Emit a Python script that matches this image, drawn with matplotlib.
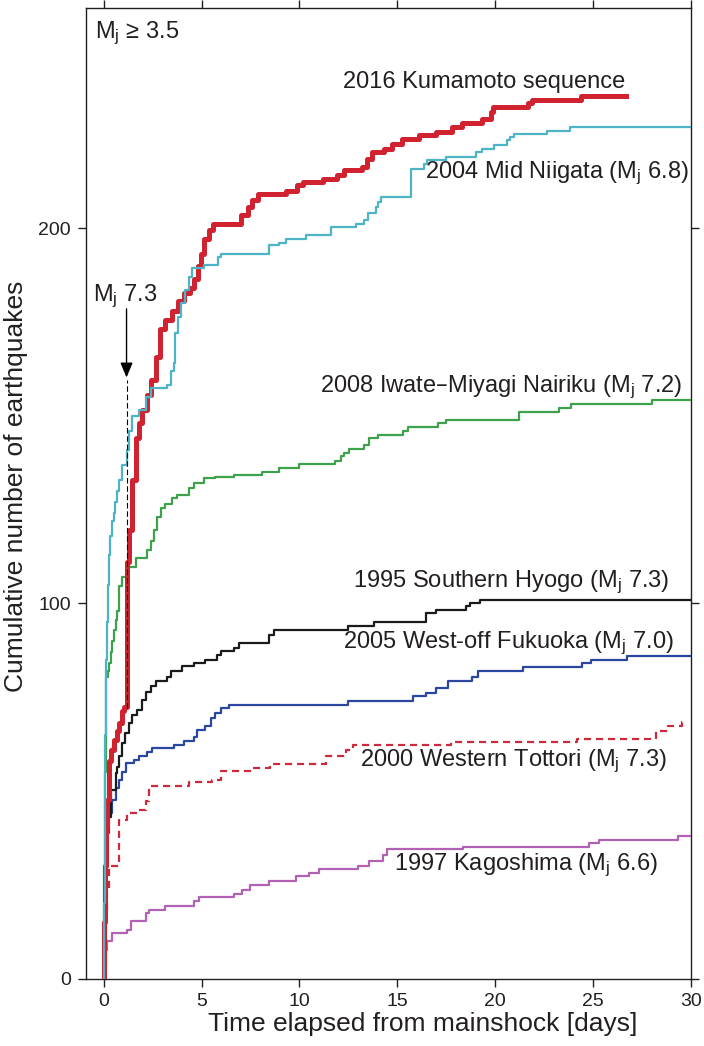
import matplotlib
matplotlib.use("Agg")
import matplotlib.pyplot as plt
from matplotlib.patches import ArrowStyle

plt.rcParams['font.family'] = ['Liberation Sans', 'DejaVu Sans']
plt.rcParams['mathtext.default'] = 'regular'

TXT = '#231f20'

# ---- data (days after mainshock, cumulative count) ----
kumamoto_t = [0, 0.02, 0.05, 0.1, 0.15, 0.27, 0.4, 0.54, 0.66, 0.78,
              0.95, 1.05, 1.18, 1.3, 1.46, 1.63, 1.8, 1.97, 2.2, 2.4,
              2.65, 2.9, 3.16, 3.5, 3.8, 4.08, 4.39, 4.6, 4.8, 4.95,
              5.15, 5.4, 5.6, 7.0, 7.35, 7.6, 7.88, 9.32, 9.9, 10.2,
              11.2, 11.9, 12.3, 13.2, 13.45, 13.7, 14.3, 14.75, 15.26, 16.1,
              17.0, 17.8, 18.3, 19.3, 19.8, 19.9, 21.7, 21.9, 24.4, 26.7]
kumamoto_n = [0, 15, 30, 40, 47.6, 58, 61, 63.6, 66, 68,
              71.2, 72.3, 111, 119.6, 132.9, 144, 148, 151.5, 155.5, 159.5,
              165.8, 173, 175.6, 178, 180.5, 182.7, 184, 186.5, 190, 193,
              197, 199.5, 201, 203.5, 205.7, 207.5, 209.2, 210, 211.4, 212.3,
              213.2, 214.1, 215.4, 216.3, 218.5, 220.3, 221.2, 222.5, 223.9, 224.8,
              225.6, 227, 228, 229, 231, 232.3, 233.3, 234.3, 235.2, 235.2]

niigata_t = [0, 0.02, 0.05, 0.08, 0.12, 0.19, 0.22, 0.27, 0.35, 0.45, 0.53, 0.6, 0.7, 0.8, 0.95,
             1.21, 1.29, 1.46, 1.8, 2.14, 2.4, 3.25, 3.42, 3.59, 3.67, 3.8, 3.93, 4.18, 4.35, 4.52,
             5.15, 5.83, 6.0, 8.47, 8.98, 9.32, 10.34, 11.6, 12.9, 13.3, 13.5, 13.9, 14.0, 14.17,
             15.7, 16.38, 16.5, 17.5, 19.0, 19.35, 19.95, 20.6, 20.75, 20.97, 22.67, 23.8, 30]
niigata_n = [0, 20, 45, 65, 85, 95, 105, 113, 118, 122, 124, 127, 130, 133, 137,
             141, 146, 150, 151.5, 155, 157.4, 158.2, 162, 164, 172, 176.4, 180, 183.5, 187, 189.3,
             190.1, 192.4, 193.2, 195.5, 196.1, 197.2, 198.1, 200.4, 201.2, 202.1, 204, 205.7, 207, 208.3,
             215.9, 217.2, 218.1, 219, 220.2, 221.2, 222.1, 223.4, 224.2, 225, 225.8, 227, 227]

iwate_t = [0, 0.02, 0.05, 0.1, 0.2, 0.27, 0.36, 0.44, 0.53, 0.61, 0.7, 0.78, 0.95, 1.2, 1.63,
           2.23, 2.4, 2.57, 2.74, 2.91, 3.16, 3.5, 3.76, 4.35, 4.6, 5.12, 5.7, 6.65, 8.1, 8.98,
           10.0, 11.8, 12.1, 12.3, 12.55, 13.3, 13.57, 14.0, 15.27, 15.53, 17.1, 17.5, 21.2,
           23.27, 23.86, 28.0, 30]
iwate_n = [0, 30, 55, 80.5, 82, 84, 87, 90, 93, 95.6, 98, 104.5, 107, 109.8, 112,
           114.2, 116.5, 119.6, 123, 125.3, 126.6, 128, 128.9, 130.7, 132, 133.3, 133.8, 134.2, 135.1, 136.2,
           137.2, 138, 139.3, 140, 141.1, 142.2, 144.2, 145, 146, 147.1, 148.1, 149, 151,
           152.1, 153.1, 154.2, 154.2]

hyogo_t = [0, 0.02, 0.05, 0.1, 0.19, 0.36, 0.61, 0.7, 0.78, 0.95, 1.09, 1.29, 1.46, 1.72, 1.97,
           2.14, 2.4, 2.65, 3.25, 3.42, 4.01, 4.6, 5.2, 5.8, 5.97, 6.65, 6.9, 8.43, 8.7, 12.46,
           13.83, 16.46, 16.97, 18.5, 18.7, 19.2, 30]
hyogo_n = [0, 15, 30, 38, 43, 50.3, 54.8, 56.5, 59.2, 62.8, 65.4, 68.1, 70.3, 71.6, 74.3,
           76.5, 77.9, 79.2, 80.5, 82, 83.2, 84.1, 85, 86.3, 87.2, 88.1, 89.4, 91.6, 93, 94,
           95, 97.4, 98.1, 99.3, 100.2, 101, 101]

fukuoka_t = [0, 0.02, 0.05, 0.1, 0.19, 0.27, 0.44, 0.61, 0.78, 0.95, 1.12, 1.55, 1.8, 2.23, 2.48,
             3.59, 4.1, 4.6, 4.78, 5.2, 5.46, 5.7, 5.97, 6.4, 12.46, 15.78, 16.46, 16.97, 17.6,
             18.84, 19.1, 21.4, 24.45, 24.9, 26.75, 30]
fukuoka_n = [0, 15, 28, 35, 38.8, 44.2, 47.7, 50.8, 53, 55, 57.4, 58.3, 59.2, 60.5, 61.4,
             62.3, 63.2, 64.5, 66.3, 67.2, 69.4, 70.8, 72.1, 73, 74.1, 75.2, 76.2, 77.4, 79.2,
             80.5, 82.1, 83, 84.1, 85, 86, 86]

tottori_t = [0, 0.03, 0.1, 0.19, 0.27, 0.78, 1.2, 1.8, 2.14, 2.31, 4.35, 5.54, 5.97, 7.58, 8.52,
             11.36, 12.38, 12.72, 17.74, 24.2, 28.2, 28.8, 29.56, 29.75]
tottori_n = [0, 10, 18, 23.7, 29.9, 42.3, 44.1, 45, 47.2, 51.2, 52.3, 53, 55.2, 56.1, 57.2,
             59.2, 61, 62.3, 63, 63.8, 65.9, 67.2, 68.3, 68.3]

kagoshima_t = [0, 0.03, 0.1, 0.19, 0.44, 1.2, 1.38, 2.14, 2.31, 3.16, 4.6, 4.86, 6.65, 7.07, 7.5,
               8.43, 9.83, 10.47, 10.98, 12.97, 13.57, 14.25, 14.45, 18.33, 24.8, 25.3, 29.35, 30]
kagoshima_n = [0, 3.3, 7.7, 9.9, 12.2, 13, 15.3, 17.5, 18.2, 19.4, 20.6, 21.7, 22.5, 23.7, 25,
               26.1, 27.2, 28.1, 29.2, 30.1, 31.2, 33, 34.4, 35.1, 36, 37, 38.1, 38.1]

mainshock_day = 1.17

xticks = [0, 5, 10, 15, 20, 25, 30]
yticks = [0, 100, 200]

# ---- figure ----
W, H = 704, 1046
fig = plt.figure(figsize=(W / 100, H / 100), dpi=100)
ax = fig.add_axes([86 / W, 1 - 978.5 / H, (691 - 86) / W, (978.5 - 8) / H])

ax.step(kagoshima_t, kagoshima_n, where='post', color='#b262b4', lw=1.6, zorder=3)
ax.step(tottori_t, tottori_n, where='post', color='#cc2a3a', lw=1.6, dashes=(3.2, 2.2), zorder=3)
ax.step(fukuoka_t, fukuoka_n, where='post', color='#2a46a0', lw=1.6, zorder=3)
ax.step(hyogo_t, hyogo_n, where='post', color='#1a1a1a', lw=1.6, zorder=3)
ax.step(iwate_t, iwate_n, where='post', color='#3ea24c', lw=1.6, zorder=3)
ax.step(niigata_t, niigata_n, where='post', color='#4db3c6', lw=1.6, zorder=4)
ax.step(kumamoto_t, kumamoto_n, where='post', color='#d0222f', lw=3.6, zorder=3.5)

# mainshock marker
ax.plot([mainshock_day, mainshock_day], [72, 159.5], color='k', lw=0.8,
        dashes=(5, 2.5), zorder=5)
ax.annotate('', xy=(mainshock_day, 160.2), xytext=(mainshock_day, 178.5),
            arrowprops=dict(arrowstyle=ArrowStyle('-|>', head_length=0.6, head_width=0.25),
                            mutation_scale=15, color='k', lw=1.0, shrinkA=0, shrinkB=0),
            zorder=6)
ax.text(1.1, 181.8, 'M$_j$ 7.3', ha='center', va='center', fontsize=17, color=TXT)

lab_kw = dict(ha='right', va='center', fontsize=17, color=TXT)
ax.text(26.65, 239.0, '2016 Kumamoto sequence', **lab_kw)
ax.text(29.9, 214.7, '2004 Mid Niigata (M$_j$ 6.8)', **lab_kw)
ax.text(29.57, 157.6, '2008 Iwate\u2013Miyagi Nairiku (M$_j$ 7.2)', **lab_kw)
ax.text(28.9, 105.7, '1995 Southern Hyogo (M$_j$ 7.3)', **lab_kw)
ax.text(29.1, 89.4, '2005 West-off Fukuoka (M$_j$ 7.0)', **lab_kw)
ax.text(28.8, 57.8, '2000 Western Tottori (M$_j$ 7.3)', **lab_kw)
ax.text(28.3, 30.3, '1997 Kagoshima (M$_j$ 6.6)', **lab_kw)
ax.text(-0.44, 252, 'M$_j$ \u2265 3.5', ha='left', va='center', fontsize=17, color=TXT)

ax.set_xlim(-0.9, 30)
ax.set_ylim(0, 258.7)
ax.set_xticks(xticks)
ax.set_yticks(yticks)
ax.tick_params(direction='out', length=5.8, width=1.0, color=TXT, labelcolor=TXT,
               labelsize=14, top=True, right=True, pad=5)
for s in ax.spines.values():
    s.set_linewidth(1.0)
    s.set_color(TXT)

fig.text(423 / W, 1 - 1031.5 / H, 'Time elapsed from mainshock [days]', ha='center',
         va='baseline', fontsize=19, color=TXT)
fig.text(23 / W, 1 - 486.5 / H, 'Cumulative number of earthquakes', ha='center',
         va='baseline', rotation=90, rotation_mode='anchor', fontsize=19, color=TXT)

fig.savefig('out.png', dpi=100)
